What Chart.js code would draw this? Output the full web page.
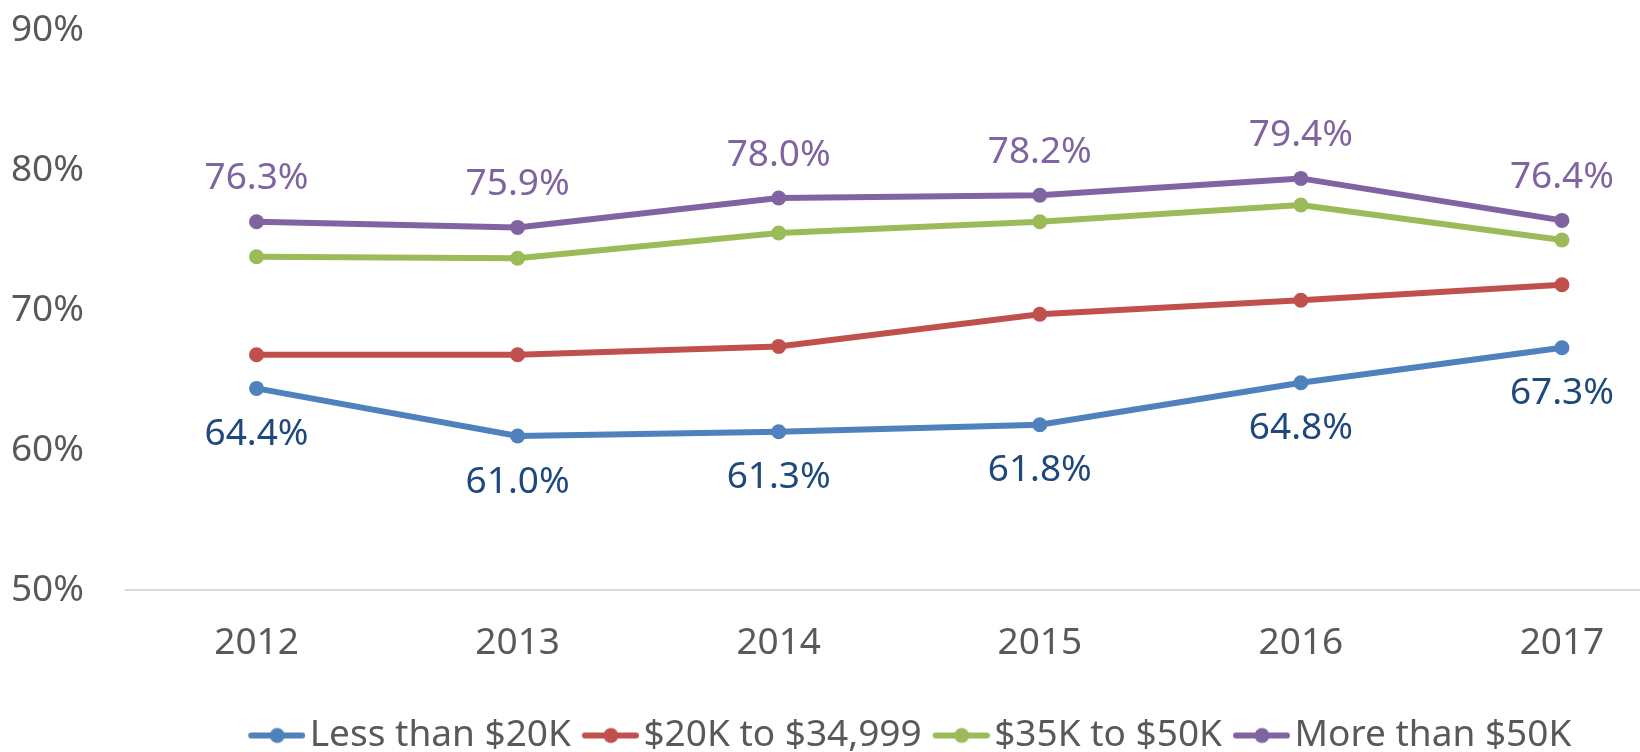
<!DOCTYPE html>
<html>
<head>
<meta charset="utf-8">
<script src="https://cdn.jsdelivr.net/npm/chart.js@4/dist/chart.umd.min.js"></script>
<style>
  html, body { margin: 0; padding: 0; background: #ffffff; }
  #wrap { width: 1640px; height: 752px; overflow: hidden; position: relative; }
  canvas { display: block; }
</style>
</head>
<body>
<div id="wrap"><canvas id="c" width="1700" height="764"></canvas></div>
<script>
const categories = ['2012', '2013', '2014', '2015', '2016', '2017'];
const seriesNames = ['Less than $20K', '$20K to $34,999', '$35K to $50K', 'More than $50K'];
const lessThan20K = [64.4, 61.0, 61.3, 61.8, 64.8, 67.3];
const from20To35K = [66.8, 66.8, 67.4, 69.7, 70.7, 71.8];
const from35To50K = [73.8, 73.7, 75.5, 76.3, 77.5, 75.0];
const moreThan50K = [76.3, 75.9, 78.0, 78.2, 79.4, 76.4];
const yTicks = [50, 60, 70, 80, 90];

const colors = ['#4F81BD', '#C0504D', '#9BBB59', '#8064A2'];
const FONT = '"Noto Sans", "Open Sans", sans-serif';
const FS = 37;

function legendMarker(color) {
  const c = document.createElement('canvas');
  c.width = 72; c.height = 18;
  const g = c.getContext('2d');
  g.strokeStyle = color; g.lineWidth = 6; g.lineCap = 'round';
  g.beginPath(); g.moveTo(18, 9); g.lineTo(69, 9); g.stroke();
  g.fillStyle = color;
  g.beginPath(); g.arc(44, 9, 7.5, 0, Math.PI * 2); g.fill();
  return c;
}
const markers = colors.map(legendMarker);

const dataLabelPlugin = {
  id: 'dataLabels',
  afterDatasetsDraw(chart) {
    const ctx = chart.ctx;
    ctx.save();
    ctx.font = FS + 'px ' + FONT;
    ctx.textAlign = 'center';
    ctx.textBaseline = 'middle';
    const cfg = [
      { idx: 0, dy: 46, color: '#1F497D' },
      { idx: 3, dy: -43, color: '#8064A2' }
    ];
    cfg.forEach(c => {
      const meta = chart.getDatasetMeta(c.idx);
      const vals = chart.data.datasets[c.idx].data;
      meta.data.forEach((pt, i) => {
        ctx.fillStyle = c.color;
        ctx.fillText(vals[i].toFixed(1) + '%', pt.x, pt.y + c.dy);
      });
    });
    ctx.restore();
  }
};

const seriesData = [lessThan20K, from20To35K, from35To50K, moreThan50K];

new Chart(document.getElementById('c'), {
  type: 'line',
  data: {
    labels: categories,
    datasets: seriesData.map((d, i) => ({
      label: seriesNames[i],
      data: d,
      borderColor: colors[i],
      backgroundColor: colors[i],
      borderWidth: 6,
      pointRadius: 7.5,
      pointHoverRadius: 7.5,
      pointBorderWidth: 0,
      pointBackgroundColor: colors[i],
      tension: 0,
      fill: false
    }))
  },
  options: {
    responsive: false,
    animation: false,
    events: [],
    layout: { padding: { top: 30, left: 12, right: 4, bottom: 0 } },
    scales: {
      x: {
        type: 'category',
        offset: true,
        grid: { display: false, drawTicks: false },
        border: { display: true, color: '#D9D9D9', width: 2 },
        ticks: {
          color: '#595959',
          font: { family: FONT, size: FS },
          padding: 31,
          autoSkip: false,
          maxRotation: 0
        },
        afterFit(scale) {
          scale.height = 117;
          scale.paddingLeft = 0;
          scale.paddingRight = 0;
        }
      },
      y: {
        min: 50,
        max: 90,
        grid: { display: false, drawTicks: false },
        border: { display: false },
        afterBuildTicks(scale) { scale.ticks = yTicks.map(v => ({ value: v })); },
        ticks: {
          color: '#595959',
          font: { family: FONT, size: FS },
          padding: 42,
          callback: v => v + '%'
        },
        afterFit(scale) {
          scale.width = 114;
          scale.paddingTop = 0;
          scale.paddingBottom = 0;
        }
      }
    },
    plugins: {
      tooltip: { enabled: false },
      legend: {
        position: 'bottom',
        fullSize: false,
        labels: {
          color: '#595959',
          font: { family: FONT, size: FS },
          usePointStyle: true,
          pointStyleWidth: 44,
          padding: 10,
          generateLabels(chart) {
            const items = Chart.defaults.plugins.legend.labels.generateLabels(chart);
            items.forEach((it, i) => { it.pointStyle = markers[i]; });
            return items;
          }
        }
      }
    }
  },
  plugins: [dataLabelPlugin]
});
</script>
</body>
</html>
